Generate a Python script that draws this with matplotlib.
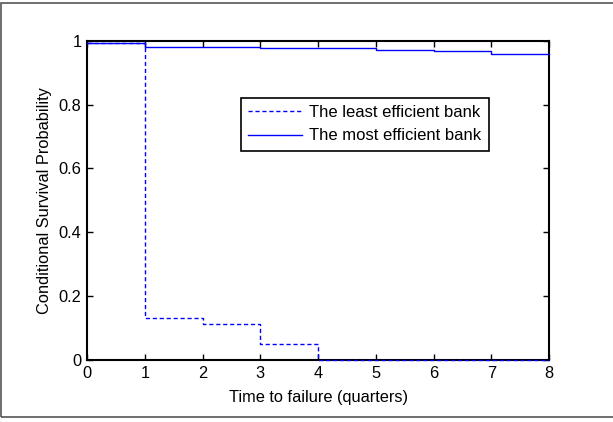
import matplotlib
matplotlib.use("Agg")
import matplotlib.pyplot as plt
from matplotlib.patches import Rectangle

# Quarterly survival estimates (value holds from each quarter to the next)
quarters = [0, 1, 2, 3, 4, 5, 6, 7, 8]
least_efficient = [0.995, 0.129, 0.110, 0.050, 0.0, 0.0, 0.0, 0.0, 0.0]
most_efficient = [0.995, 0.981, 0.981, 0.977, 0.977, 0.973, 0.969, 0.958, 0.958]

plt.rcParams["font.family"] = ["Liberation Sans", "DejaVu Sans"]
plt.rcParams["font.size"] = 12

fig = plt.figure(figsize=(6.13, 4.22), dpi=100)
ax = fig.add_axes([0.142, 0.148, 0.754, 0.755])

ax.step(quarters, least_efficient, where="post", color="blue", lw=1.0,
        linestyle=(0, (3, 2)), label="The least efficient bank",
        zorder=3, clip_on=False)
ax.step(quarters, most_efficient, where="post", color="blue", lw=1.0,
        label="The most efficient bank", zorder=3, clip_on=False)

ax.set_xlim(0, 8)
ax.set_ylim(0, 1)
ax.set_xticks(range(9))
ax.set_yticks([0, 0.2, 0.4, 0.6, 0.8, 1])
ax.set_yticklabels(["0", "0.2", "0.4", "0.6", "0.8", "1"])
ax.tick_params(direction="in", top=True, right=True, length=4, width=1,
               labelsize=11.8, pad=4)
ax.tick_params(axis="x", pad=5)
for s in ax.spines.values():
    s.set_linewidth(1.5)

ax.set_xlabel("Time to failure (quarters)", fontsize=11.8, labelpad=6)
ax.set_ylabel("Conditional Survival Probability", fontsize=11.8, labelpad=5)

leg = ax.legend(loc="upper left", bbox_to_anchor=(0.333, 0.822),
                fontsize=12, fancybox=False, framealpha=1,
                edgecolor="black", handlelength=3.2, borderpad=0.45,
                labelspacing=0.5, handletextpad=0.45, borderaxespad=0)
leg.get_frame().set_linewidth(1.2)

# grey frame around the whole figure
fig.patches.append(Rectangle((1.5 / 613, 5.5 / 422), 1.2, 413.5 / 422,
                             transform=fig.transFigure, fill=False,
                             edgecolor="#555555", lw=1.2))

fig.savefig("out.png", dpi=100)
